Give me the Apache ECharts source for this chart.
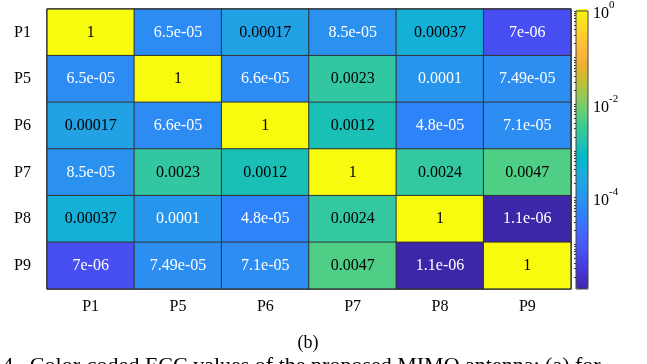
<!DOCTYPE html>
<html>
<head>
<meta charset="utf-8">
<script src="https://cdn.jsdelivr.net/npm/echarts@6/dist/echarts.min.js"></script>
<style>
html,body{margin:0;padding:0;background:#fff;}
#chart{width:647px;height:364px;}
</style>
</head>
<body>
<div id="chart"></div>
<script>
// ---- data ----
const categories = ['P1', 'P5', 'P6', 'P7', 'P8', 'P9'];
const rowP1 = [1, 6.5e-05, 0.00017, 8.5e-05, 0.00037, 7e-06];
const rowP5 = [6.5e-05, 1, 6.6e-05, 0.0023, 0.0001, 7.49e-05];
const rowP6 = [0.00017, 6.6e-05, 1, 0.0012, 4.8e-05, 7.1e-05];
const rowP7 = [8.5e-05, 0.0023, 0.0012, 1, 0.0024, 0.0047];
const rowP8 = [0.00037, 0.0001, 4.8e-05, 0.0024, 1, 1.1e-06];
const rowP9 = [7e-06, 7.49e-05, 7.1e-05, 0.0047, 1.1e-06, 1];
const colorbarLabelValues = [1, 1e-2, 1e-4];
const captionText = 'Fig. 4.  Color-coded ECC values of the proposed MIMO antenna: (a) for';
const subLabel = '(b)';

const rows = [rowP1, rowP5, rowP6, rowP7, rowP8, rowP9];

// parula (64)
const parula = [
[0.2422,0.1504,0.6603],[0.2504,0.1650,0.7076],[0.2578,0.1818,0.7511],[0.2647,0.1978,0.7952],
[0.2706,0.2147,0.8364],[0.2751,0.2342,0.8710],[0.2783,0.2559,0.8991],[0.2803,0.2782,0.9221],
[0.2813,0.3006,0.9414],[0.2810,0.3228,0.9579],[0.2795,0.3447,0.9717],[0.2760,0.3667,0.9829],
[0.2699,0.3892,0.9906],[0.2602,0.4123,0.9952],[0.2440,0.4358,0.9988],[0.2206,0.4603,0.9973],
[0.1963,0.4847,0.9892],[0.1834,0.5074,0.9798],[0.1786,0.5289,0.9682],[0.1764,0.5499,0.9520],
[0.1687,0.5703,0.9359],[0.1540,0.5902,0.9218],[0.1460,0.6091,0.9079],[0.1380,0.6276,0.8973],
[0.1248,0.6459,0.8883],[0.1113,0.6635,0.8763],[0.0952,0.6798,0.8598],[0.0689,0.6948,0.8394],
[0.0297,0.7082,0.8163],[0.0036,0.7199,0.7913],[0.0067,0.7300,0.7659],[0.0433,0.7394,0.7406],
[0.0964,0.7489,0.7150],[0.1408,0.7584,0.6886],[0.1717,0.7682,0.6611],[0.1938,0.7785,0.6326],
[0.2161,0.7883,0.6019],[0.2470,0.7975,0.5695],[0.2906,0.8053,0.5354],[0.3406,0.8101,0.4994],
[0.3909,0.8113,0.4624],[0.4456,0.8085,0.4246],[0.5044,0.8021,0.3868],[0.5616,0.7934,0.3498],
[0.6174,0.7830,0.3139],[0.6720,0.7717,0.2786],[0.7245,0.7596,0.2443],[0.7743,0.7464,0.2113],
[0.8210,0.7312,0.1861],[0.8658,0.7156,0.1779],[0.9087,0.7016,0.1841],[0.9436,0.6935,0.2030],
[0.9706,0.6961,0.2294],[0.9840,0.7093,0.2364],[0.9926,0.7276,0.2291],[0.9979,0.7508,0.2134],
[0.9974,0.7764,0.1946],[0.9949,0.8027,0.1763],[0.9892,0.8295,0.1578],[0.9822,0.8573,0.1389],
[0.9711,0.8842,0.1209],[0.9625,0.9115,0.1014],[0.9597,0.9374,0.0791],[0.9763,0.9831,0.0538]
].map(c => 'rgb(' + c.map(v => Math.round(v * 255)).join(',') + ')');

function fmtG(v) {
  if (v === 1) return '1';
  const e = Math.floor(Math.log10(v) + 1e-9);
  if (e < -4) {
    let s = v.toExponential();
    return s.replace(/e([+-])(\d)$/, 'e$10$2');
  }
  return String(v);
}

let minVal = Infinity, maxVal = -Infinity;
rows.forEach(r => r.forEach(v => { minVal = Math.min(minVal, v); maxVal = Math.max(maxVal, v); }));

// colorbar tick positions (decades and 2..9 multiples) within range
const cbTicks = [];
for (let k = -7; k <= 0; k++) {
  for (let m = 1; m <= 9; m++) {
    const t = m * Math.pow(10, k);
    if (t >= minVal * 0.999 && t <= maxVal * 1.001) cbTicks.push(t);
  }
}

const data = [];
rows.forEach((r, i) => r.forEach((v, j) => {
  data.push({
    value: [j, i, Math.log10(v)],
    raw: v,
    label: { color: v > 1.2e-4 ? '#000' : '#fff' }
  });
}));

const serif = '"Liberation Serif", "Times New Roman", serif';

const chart = echarts.init(document.getElementById('chart'), null, { renderer: 'canvas' });
chart.setOption({
  animation: false,
  backgroundColor: '#fff',
  grid: [
    { left: 47, top: 9, width: 524, height: 280, show: true, borderColor: '#333', borderWidth: 1, backgroundColor: 'transparent', z: 5 },
    { left: 576, top: 9, width: 12, height: 280, show: true, borderColor: '#444', borderWidth: 1, backgroundColor: 'transparent', z: 10 }
  ],
  xAxis: [
    { type: 'category', gridIndex: 0, data: categories, axisLine: { show: false }, axisTick: { show: false },
      axisLabel: { fontFamily: serif, fontSize: 16, color: '#000', margin: 10 }, splitLine: { show: false } },
    { type: 'value', gridIndex: 1, show: false }
  ],
  yAxis: [
    { type: 'category', gridIndex: 0, data: categories, inverse: true, axisLine: { show: false }, axisTick: { show: false },
      axisLabel: { fontFamily: serif, fontSize: 16, color: '#000', margin: 16 }, splitLine: { show: false } },
    { type: 'log', gridIndex: 1, position: 'right', min: minVal, max: maxVal, logBase: 10,
      axisLine: { show: false },
      axisTick: { show: true, inside: true, length: 2, customValues: cbTicks, lineStyle: { color: '#333', width: 1 } },
      splitLine: { show: false },
      axisLabel: {
        margin: 5, color: '#000',
        customValues: colorbarLabelValues,
        formatter: function (v) {
          const r = Math.round(Math.log10(v));
          return '{b|10}{s|' + r + '}';
        },
        rich: {
          b: { fontFamily: serif, fontSize: 16, color: '#000', verticalAlign: 'bottom', lineHeight: 22 },
          s: { fontFamily: serif, fontSize: 11, color: '#000', verticalAlign: 'top', lineHeight: 22 }
        }
      }
    }
  ],
  visualMap: {
    type: 'continuous',
    min: Math.log10(minVal),
    max: Math.log10(maxVal),
    dimension: 2,
    seriesIndex: 0,
    calculable: false,
    hoverLink: false,
    orient: 'vertical',
    left: 576,
    top: 9,
    itemWidth: 12,
    itemHeight: 280,
    padding: 0,
    text: null,
    inRange: { color: parula }
  },
  series: [{
    type: 'heatmap',
    xAxisIndex: 0,
    yAxisIndex: 0,
    data: data,
    itemStyle: { borderColor: '#333', borderWidth: 1 },
    label: {
      show: true,
      fontFamily: serif,
      fontSize: 16,
      formatter: p => fmtG(p.data.raw)
    },
    emphasis: { disabled: true }
  }],
  graphic: [
    { type: 'text', x: 308, y: 343, style: { text: subLabel, font: '18px ' + serif, fill: '#000', textAlign: 'center', textVerticalAlign: 'middle' } },
    { type: 'text', x: -38, y: 355, style: { text: captionText, font: '22px ' + serif, fill: '#000', textAlign: 'left', textVerticalAlign: 'top' } }
  ]
});
</script>
</body>
</html>
